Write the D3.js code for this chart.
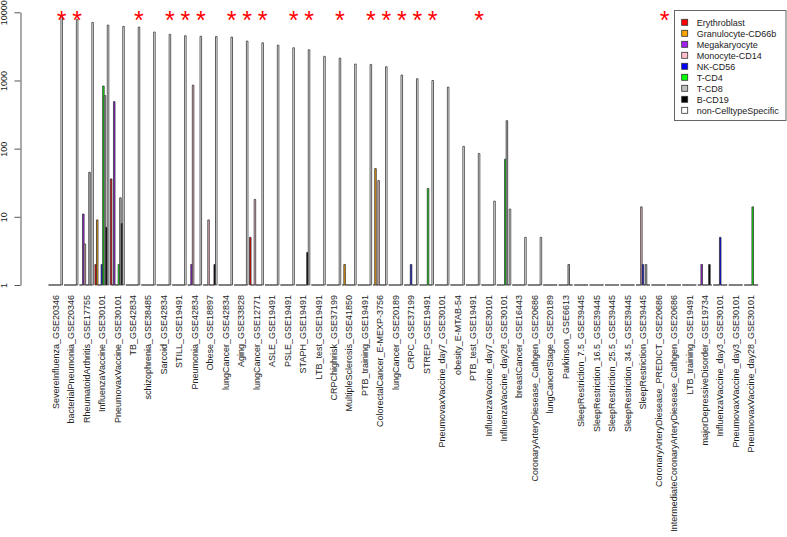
<!DOCTYPE html>
<html>
<head>
<meta charset="utf-8">
<script src="https://cdnjs.cloudflare.com/ajax/libs/d3/7.8.5/d3.min.js"></script>
<style>
  body { margin: 0; background: #fff; }
  svg { font-family: "Liberation Sans", Arial, sans-serif; }
</style>
</head>
<body>
<div id="chart"></div>
<script>
// ---------- data ----------
var categories = [
  "SevereInfluenza_GSE20346", "bacterialPneumonia_GSE20346", "RheumatoidArthritis_GSE17755",
  "InfluenzaVaccine_GSE30101", "PneumovaxVaccine_GSE30101", "TB_GSE42834", "schizophrenia_GSE38485",
  "Sarcoid_GSE42834", "STILL_GSE19491", "Pneumonia_GSE42834", "Obese_GSE18897", "lungCancer_GSE42834",
  "Aging_GSE33828", "lungCancer_GSE12771", "ASLE_GSE19491", "PSLE_GSE19491", "STAPH_GSE19491",
  "LTB_test_GSE19491", "CRPChighrisk_GSE37199", "MultipleSclerosis_GSE41850", "PTB_training_GSE19491",
  "ColorectalCancer_E-MEXP-3756", "lungCancer_GSE20189", "CRPC_GSE37199", "STREP_GSE19491",
  "PneumovaxVaccine_day7_GSE30101", "obesity_E-MTAB-54", "PTB_test_GSE19491",
  "InfluenzaVaccine_day7_GSE30101", "InfluenzaVaccine_day28_GSE30101", "breastCancer_GSE16443",
  "CoronaryArteryDiesease_Cathgen_GSE20686", "lungCancerStage_GSE20189", "Parkinson_GSE6613",
  "SleepRestriction_7.5_GSE39445", "SleepRestriction_16.5_GSE39445", "SleepRestriction_25.5_GSE39445",
  "SleepRestriction_34.5_GSE39445", "SleepRestriction_GSE39445", "CoronaryArteryDiesease_PREDICT_GSE20686",
  "IntermediateCoronaryArteryDiesease_Cathgen_GSE20686", "LTB_training_GSE19491",
  "majorDepressiveDisorder_GSE19734", "InfluenzaVaccine_day3_GSE30101", "PneumovaxVaccine_day3_GSE30101",
  "PneumovaxVaccine_day28_GSE30101"
];
var seriesNames = ["Erythroblast", "Granulocyte-CD66b", "Megakaryocyte", "Monocyte-CD14", "NK-CD56",
  "T-CD4", "T-CD8", "B-CD19", "non-CelltypeSpecific"];

var erythroblast = [1,1,1,2,36,1,1,1,1,1, 1,1,1,5,1,1,1,1,1,1, 1,1,1,1,1,1,1,1,1,1, 1,1,1,1,1,1,1,1,1,1, 1,1,1,1,1,1];
var granulocyte  = [1,1,1,9,1,1,1,1,1,1, 1,1,1,1,1,1,1,1,1,2, 1,51,1,1,1,1,1,1,1,1, 1,1,1,1,1,1,1,1,1,1, 1,1,1,1,1,1];
var megakaryocyte= [1,1,11,1,490,1,1,1,1,2, 1,1,1,1,1,1,1,1,1,1, 1,1,1,1,1,1,1,1,1,1, 1,1,1,1,1,1,1,1,1,1, 1,1,2,1,1,1];
var monocyte     = [1,1,4,1,1,1,1,1,1,855, 9,1,1,18,1,1,1,1,1,1, 1,34,1,1,1,1,1,1,1,1, 1,1,1,1,1,1,1,1,14,1, 1,1,1,1,1,1];
var nkCD56       = [1,1,1,2,1,1,1,1,1,1, 1,1,1,1,1,1,1,1,1,1, 1,1,1,2,1,1,1,1,1,1, 1,1,1,1,1,1,1,1,2,1, 1,1,1,5,1,1];
var tCD4         = [1,1,1,830,2,1,1,1,1,1, 1,1,1,1,1,1,1,1,1,1, 1,1,1,1,26,1,1,1,1,70, 1,1,1,1,1,1,1,1,1,1, 1,1,1,1,1,14];
var tCD8         = [1,1,45,600,19,1,1,1,1,1, 1,1,1,1,1,1,1,1,1,1, 1,1,1,1,1,1,1,1,1,257, 1,1,1,2,1,1,1,1,2,1, 1,1,1,1,1,1];
var bCD19        = [1,1,1,7,8,1,1,1,1,1, 2,1,1,1,1,1,3,1,1,1, 1,1,1,1,1,1,1,1,1,1, 1,1,1,1,1,1,1,1,1,1, 1,1,2,1,1,1];
var nonSpecific  = [8900,7870,7100,6500,6200,6070,5130,4740,4530,4450, 4400,4330,3780,3570,3300,3020,2820,2260,2130,1740,
                    1720,1590,1200,1060,1000,800,108,85,17,13, 5,5,1,1,1,1,1,1,1,1, 1,1,1,1,1,1];
// groups marked with a red asterisk
var starred = [1,1,0,0,0,1,0,1,1,1, 0,1,1,1,0,1,1,0,1,0, 1,1,1,1,1,0,0,1,0,0, 0,0,0,0,0,0,0,0,0,1, 0,0,0,0,0,0];
var yTicks = [1, 10, 100, 1000, 10000];

var seriesValues = [erythroblast, granulocyte, megakaryocyte, monocyte, nkCD56, tCD4, tCD8, bCD19, nonSpecific];
var seriesColors = ["#FF0000", "#FFA500", "#A020F0", "#FFC0CB", "#0000FF", "#00FF00", "#BEBEBE", "#000000", "#FFFFFF"];

// ---------- layout ----------
var width = 787, height = 537;
var unit = 1.5459, left = 47;

var svg = d3.select("#chart").append("svg")
    .attr("width", width)
    .attr("height", height);

var x = d3.scaleBand()
    .domain(categories)
    .range([left + 0.5 * unit, left + 460.5 * unit])
    .paddingInner(0.1)
    .paddingOuter(0.05);
var xs = d3.scaleBand()
    .domain(seriesNames)
    .range([0, x.bandwidth()]);
var y = d3.scaleLog()
    .domain([1, 10000])
    .range([285, 12.3]);

// bars (paths so zero-height bars still draw their border)
var bars = [];
categories.forEach(function (c, i) {
    seriesNames.forEach(function (s, j) {
        bars.push({ cat: c, ser: s, v: seriesValues[j][i], color: seriesColors[j] });
    });
});

svg.append("g")
    .attr("class", "bars")
    .selectAll("path")
    .data(bars)
    .enter().append("path")
    .attr("d", function (d) {
        var x1 = x(d.cat) + xs(d.ser), x2 = x1 + xs.bandwidth();
        return "M" + x1 + "," + y(1) + "V" + y(d.v) + "H" + x2 + "V" + y(1) + "Z";
    })
    .attr("fill", function (d) { return d.color; })
    .attr("stroke", "#333")
    .attr("stroke-width", 0.8);

// y axis
var yAxis = d3.axisLeft(y)
    .tickValues(yTicks)
    .tickFormat(d3.format("d"))
    .tickSize(6)
    .tickSizeOuter(0);
var gy = svg.append("g")
    .attr("class", "y axis")
    .attr("transform", "translate(20.5,0)")
    .call(yAxis);
gy.select(".domain").attr("stroke", "#555");
gy.selectAll(".tick line").attr("stroke", "#555");
gy.selectAll(".tick text")
    .attr("transform", "rotate(-90)")
    .attr("x", 0)
    .attr("y", -13.8)
    .attr("dy", 0)
    .attr("text-anchor", "middle")
    .attr("fill", "#222")
    .style("font-size", "9px")
    .style("font-family", "Liberation Sans, Arial, sans-serif");

// x labels
svg.append("g")
    .attr("class", "x labels")
    .selectAll("text")
    .data(categories)
    .enter().append("text")
    .attr("transform", function (d) {
        return "translate(" + (x(d) + x.bandwidth() / 2 + 3.2) + ",295) rotate(-90)";
    })
    .attr("text-anchor", "end")
    .attr("fill", "#222")
    .style("font-size", "9px")
    .text(function (d) { return d; });

// asterisks over the non-CelltypeSpecific bar
svg.append("g")
    .attr("class", "stars")
    .selectAll("text")
    .data(categories.filter(function (c, i) { return starred[i] === 1; }))
    .enter().append("text")
    .attr("x", function (d) { return x(d) + xs("non-CelltypeSpecific") + xs.bandwidth() / 2; })
    .attr("y", 29)
    .attr("text-anchor", "middle")
    .attr("fill", "#FF0000")
    .style("font-size", "25px")
    .text("*");

// legend
var legend = svg.append("g").attr("class", "legend");
legend.append("rect")
    .attr("x", 674.5).attr("y", 10.5)
    .attr("width", 111.5).attr("height", 110)
    .attr("fill", "#fff")
    .attr("stroke", "#666");
var item = legend.selectAll("g.item")
    .data(seriesNames)
    .enter().append("g")
    .attr("class", "item")
    .attr("transform", function (d, i) { return "translate(0," + (22.3 + i * 11) + ")"; });
item.append("rect")
    .attr("x", 681.7).attr("y", -3)
    .attr("width", 6).attr("height", 6)
    .attr("fill", function (d, i) { return seriesColors[i]; })
    .attr("stroke", "#333")
    .attr("stroke-width", 0.8);
item.append("text")
    .attr("x", 696.7).attr("y", 3.2)
    .attr("fill", "#222")
    .style("font-size", "9px")
    .text(function (d) { return d; });
</script>
</body>
</html>
